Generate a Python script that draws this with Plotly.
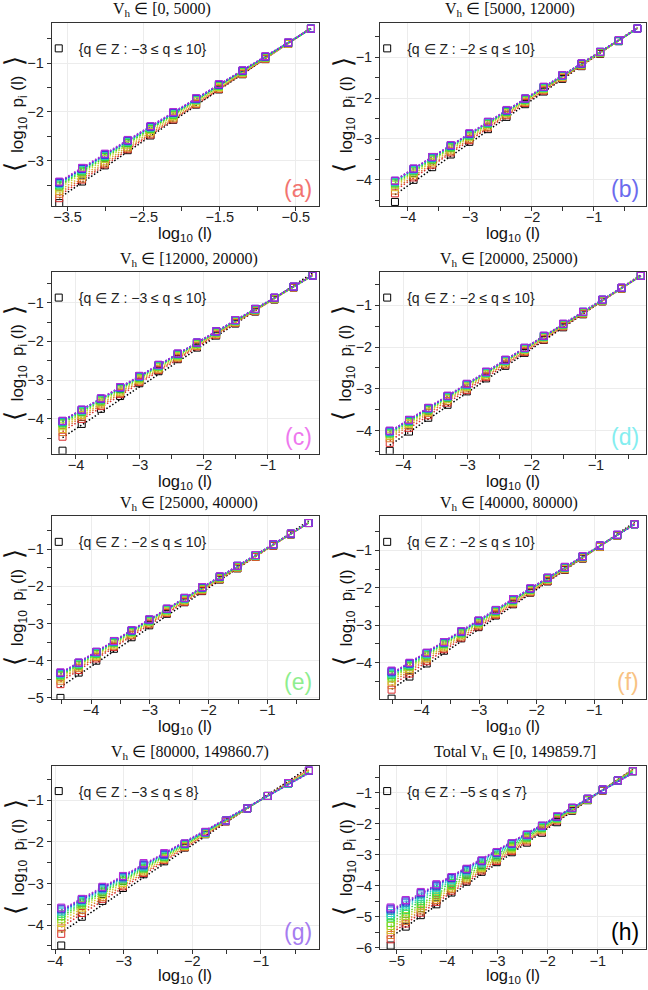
import colorsys
import numpy as np
import plotly.graph_objects as go

W, H = 648, 990

# ---------------- data ----------------
x_a = [-0.30, -0.60, -0.90, -1.20, -1.51, -1.81, -2.11, -2.41, -2.71, -3.01, -3.31, -3.61]
x_b = [-0.30, -0.60, -0.90, -1.20, -1.51, -1.81, -2.11, -2.41, -2.71, -3.01, -3.31, -3.61, -3.91, -4.21]
x_c = list(x_b)
x_d = list(x_b)
x_e = [-0.30, -0.60, -0.90, -1.20, -1.51, -1.81, -2.11, -2.41, -2.71, -3.01, -3.31, -3.61, -3.91, -4.21, -4.52]
x_f = list(x_e)
x_g = [-0.30, -0.60, -0.90, -1.20, -1.51, -1.81, -2.11, -2.41, -2.71, -3.01, -3.31, -3.61, -3.91]
x_h = [-0.30, -0.60, -0.90, -1.20, -1.51, -1.81, -2.11, -2.41, -2.71, -3.01, -3.31, -3.61, -3.91, -4.21,
       -4.52, -4.82, -5.12]

q_a = [-3, -2, -1, 0, 1, 2, 3, 4, 5, 6, 7, 8, 9, 10]
q_b = [-2, -1, 0, 1, 2, 3, 4, 5, 6, 7, 8, 9, 10]
q_c = [-3, -2, -1, 0, 1, 2, 3, 4, 5, 6, 7, 8, 9, 10]
q_d = [-2, -1, 0, 1, 2, 3, 4, 5, 6, 7, 8, 9, 10]
q_e = [-2, -1, 0, 1, 2, 3, 4, 5, 6, 7, 8, 9, 10]
q_f = [-2, -1, 0, 1, 2, 3, 4, 5, 6, 7, 8, 9, 10]
q_g = [-3, -2, -1, 0, 1, 2, 3, 4, 5, 6, 7, 8]
q_h = [-5, -4, -3, -2, -1, 0, 1, 2, 3, 4, 5, 6, 7]

y_a = [
    [-0.30, -0.61, -0.92, -1.23, -1.54, -1.85, -2.16, -2.48, -2.78, -3.09, -3.42, -3.86],
    [-0.30, -0.61, -0.92, -1.22, -1.53, -1.84, -2.15, -2.46, -2.76, -3.07, -3.38, -3.76],
    [-0.30, -0.61, -0.91, -1.22, -1.52, -1.83, -2.13, -2.44, -2.74, -3.05, -3.36, -3.67],
    [-0.30, -0.60, -0.90, -1.20, -1.50, -1.81, -2.11, -2.41, -2.71, -3.01, -3.31, -3.61],
    [-0.30, -0.60, -0.89, -1.19, -1.49, -1.78, -2.08, -2.37, -2.67, -2.96, -3.26, -3.56],
    [-0.30, -0.59, -0.89, -1.18, -1.47, -1.76, -2.06, -2.35, -2.64, -2.93, -3.23, -3.52],
    [-0.30, -0.59, -0.88, -1.17, -1.46, -1.75, -2.05, -2.34, -2.63, -2.92, -3.21, -3.50],
    [-0.30, -0.59, -0.88, -1.17, -1.46, -1.75, -2.03, -2.32, -2.61, -2.90, -3.19, -3.48],
    [-0.30, -0.59, -0.88, -1.16, -1.45, -1.74, -2.03, -2.32, -2.60, -2.89, -3.18, -3.47],
    [-0.30, -0.59, -0.87, -1.16, -1.45, -1.74, -2.02, -2.31, -2.60, -2.89, -3.17, -3.46],
    [-0.30, -0.59, -0.87, -1.16, -1.45, -1.73, -2.02, -2.30, -2.59, -2.88, -3.16, -3.45],
    [-0.30, -0.59, -0.87, -1.16, -1.44, -1.73, -2.01, -2.30, -2.58, -2.87, -3.16, -3.44],
    [-0.30, -0.58, -0.87, -1.15, -1.44, -1.72, -2.01, -2.29, -2.58, -2.86, -3.15, -3.43],
    [-0.30, -0.58, -0.86, -1.15, -1.43, -1.72, -2.00, -2.29, -2.57, -2.85, -3.14, -3.42],
]

y_b = [
    [-0.30, -0.61, -0.92, -1.22, -1.53, -1.84, -2.15, -2.46, -2.76, -3.07, -3.38, -3.69, -4.00, -4.54],
    [-0.30, -0.60, -0.91, -1.21, -1.51, -1.82, -2.12, -2.42, -2.72, -3.03, -3.33, -3.63, -3.94, -4.33],
    [-0.30, -0.60, -0.90, -1.20, -1.50, -1.80, -2.10, -2.40, -2.70, -3.00, -3.30, -3.60, -3.90, -4.26],
    [-0.30, -0.60, -0.89, -1.19, -1.48, -1.78, -2.08, -2.37, -2.67, -2.96, -3.26, -3.56, -3.85, -4.18],
    [-0.30, -0.59, -0.89, -1.18, -1.47, -1.77, -2.06, -2.35, -2.64, -2.94, -3.23, -3.52, -3.82, -4.12],
    [-0.30, -0.59, -0.88, -1.17, -1.46, -1.76, -2.05, -2.34, -2.63, -2.92, -3.21, -3.50, -3.79, -4.09],
    [-0.30, -0.59, -0.88, -1.17, -1.46, -1.75, -2.04, -2.33, -2.62, -2.91, -3.20, -3.48, -3.77, -4.07],
    [-0.30, -0.59, -0.88, -1.16, -1.45, -1.74, -2.03, -2.32, -2.60, -2.89, -3.18, -3.47, -3.76, -4.05],
    [-0.30, -0.59, -0.87, -1.16, -1.45, -1.74, -2.02, -2.31, -2.60, -2.89, -3.17, -3.46, -3.75, -4.04],
    [-0.30, -0.59, -0.87, -1.16, -1.45, -1.73, -2.02, -2.31, -2.59, -2.88, -3.17, -3.45, -3.74, -4.03],
    [-0.30, -0.59, -0.87, -1.16, -1.44, -1.73, -2.01, -2.30, -2.59, -2.87, -3.16, -3.45, -3.73, -4.03],
    [-0.30, -0.58, -0.87, -1.15, -1.44, -1.73, -2.01, -2.30, -2.58, -2.87, -3.15, -3.44, -3.73, -4.02],
    [-0.30, -0.58, -0.87, -1.15, -1.44, -1.72, -2.01, -2.29, -2.58, -2.86, -3.15, -3.44, -3.72, -4.02],
]

y_c = [
    [-0.30, -0.61, -0.92, -1.23, -1.54, -1.85, -2.16, -2.46, -2.77, -3.08, -3.41, -3.74, -4.13, -4.82],
    [-0.30, -0.61, -0.91, -1.22, -1.52, -1.83, -2.13, -2.44, -2.74, -3.05, -3.36, -3.67, -4.00, -4.46],
    [-0.30, -0.60, -0.91, -1.21, -1.51, -1.82, -2.12, -2.42, -2.72, -3.03, -3.33, -3.63, -3.94, -4.34],
    [-0.30, -0.60, -0.90, -1.20, -1.50, -1.80, -2.10, -2.40, -2.70, -3.00, -3.30, -3.60, -3.90, -4.26],
    [-0.30, -0.60, -0.89, -1.19, -1.49, -1.78, -2.08, -2.38, -2.67, -2.97, -3.27, -3.56, -3.86, -4.19],
    [-0.30, -0.59, -0.89, -1.18, -1.48, -1.77, -2.06, -2.36, -2.65, -2.95, -3.24, -3.53, -3.83, -4.14],
    [-0.30, -0.59, -0.88, -1.18, -1.47, -1.76, -2.05, -2.35, -2.64, -2.93, -3.22, -3.52, -3.81, -4.11],
    [-0.30, -0.59, -0.88, -1.17, -1.46, -1.76, -2.05, -2.34, -2.63, -2.92, -3.21, -3.50, -3.80, -4.09],
    [-0.30, -0.59, -0.88, -1.17, -1.46, -1.75, -2.04, -2.33, -2.62, -2.91, -3.20, -3.49, -3.79, -4.08],
    [-0.30, -0.59, -0.88, -1.17, -1.46, -1.75, -2.04, -2.33, -2.62, -2.91, -3.20, -3.49, -3.78, -4.07],
    [-0.30, -0.59, -0.88, -1.17, -1.45, -1.74, -2.03, -2.32, -2.61, -2.90, -3.19, -3.48, -3.77, -4.06],
    [-0.30, -0.59, -0.87, -1.16, -1.45, -1.74, -2.03, -2.32, -2.61, -2.90, -3.19, -3.48, -3.77, -4.06],
    [-0.30, -0.59, -0.87, -1.16, -1.45, -1.74, -2.03, -2.32, -2.61, -2.89, -3.18, -3.47, -3.76, -4.05],
    [-0.30, -0.58, -0.87, -1.16, -1.45, -1.74, -2.03, -2.31, -2.60, -2.89, -3.18, -3.47, -3.76, -4.05],
]

y_d = [
    [-0.30, -0.61, -0.91, -1.22, -1.53, -1.83, -2.14, -2.45, -2.75, -3.06, -3.38, -3.69, -4.02, -4.48],
    [-0.30, -0.60, -0.91, -1.21, -1.51, -1.82, -2.12, -2.42, -2.72, -3.03, -3.33, -3.63, -3.93, -4.29],
    [-0.30, -0.60, -0.90, -1.20, -1.50, -1.80, -2.10, -2.40, -2.69, -2.99, -3.29, -3.58, -3.88, -4.18],
    [-0.30, -0.60, -0.89, -1.19, -1.48, -1.78, -2.07, -2.37, -2.66, -2.96, -3.25, -3.55, -3.84, -4.13],
    [-0.30, -0.59, -0.89, -1.18, -1.47, -1.77, -2.06, -2.35, -2.64, -2.94, -3.23, -3.52, -3.81, -4.09],
    [-0.30, -0.59, -0.88, -1.17, -1.47, -1.76, -2.05, -2.34, -2.63, -2.92, -3.21, -3.50, -3.79, -4.07],
    [-0.30, -0.59, -0.88, -1.17, -1.46, -1.75, -2.04, -2.33, -2.62, -2.91, -3.20, -3.49, -3.78, -4.05],
    [-0.30, -0.59, -0.88, -1.17, -1.46, -1.75, -2.04, -2.33, -2.61, -2.90, -3.19, -3.48, -3.77, -4.04],
    [-0.30, -0.59, -0.88, -1.16, -1.45, -1.74, -2.03, -2.32, -2.61, -2.90, -3.18, -3.47, -3.76, -4.03],
    [-0.30, -0.59, -0.87, -1.16, -1.45, -1.74, -2.03, -2.32, -2.60, -2.89, -3.18, -3.47, -3.76, -4.02],
    [-0.30, -0.59, -0.87, -1.16, -1.45, -1.74, -2.02, -2.31, -2.60, -2.89, -3.17, -3.46, -3.75, -4.01],
    [-0.30, -0.58, -0.87, -1.16, -1.45, -1.73, -2.02, -2.31, -2.59, -2.88, -3.17, -3.46, -3.74, -4.00],
    [-0.30, -0.58, -0.87, -1.16, -1.44, -1.73, -2.02, -2.30, -2.59, -2.88, -3.16, -3.45, -3.74, -4.00],
]

y_e = [
    [-0.30, -0.61, -0.91, -1.21, -1.52, -1.82, -2.13, -2.43, -2.74, -3.05, -3.37, -3.68, -4.00, -4.32, -5.00],
    [-0.30, -0.60, -0.91, -1.21, -1.51, -1.81, -2.12, -2.42, -2.72, -3.02, -3.32, -3.63, -3.94, -4.25, -4.63],
    [-0.30, -0.60, -0.90, -1.20, -1.50, -1.80, -2.10, -2.40, -2.70, -3.00, -3.30, -3.60, -3.90, -4.20, -4.54],
    [-0.30, -0.60, -0.89, -1.19, -1.49, -1.79, -2.08, -2.38, -2.68, -2.97, -3.27, -3.57, -3.87, -4.16, -4.48],
    [-0.30, -0.59, -0.89, -1.18, -1.48, -1.77, -2.07, -2.36, -2.66, -2.95, -3.25, -3.54, -3.84, -4.13, -4.42],
    [-0.30, -0.59, -0.88, -1.18, -1.47, -1.76, -2.06, -2.35, -2.64, -2.94, -3.23, -3.52, -3.82, -4.11, -4.40],
    [-0.30, -0.59, -0.88, -1.17, -1.46, -1.76, -2.05, -2.34, -2.63, -2.92, -3.22, -3.51, -3.80, -4.10, -4.38],
    [-0.30, -0.59, -0.88, -1.17, -1.46, -1.75, -2.04, -2.33, -2.62, -2.92, -3.21, -3.50, -3.79, -4.08, -4.36],
    [-0.30, -0.59, -0.88, -1.17, -1.46, -1.75, -2.04, -2.33, -2.62, -2.91, -3.20, -3.49, -3.78, -4.07, -4.35],
    [-0.30, -0.59, -0.88, -1.16, -1.45, -1.74, -2.03, -2.32, -2.61, -2.90, -3.19, -3.48, -3.77, -4.06, -4.34],
    [-0.30, -0.59, -0.87, -1.16, -1.45, -1.74, -2.03, -2.32, -2.61, -2.90, -3.19, -3.48, -3.77, -4.06, -4.33],
    [-0.30, -0.58, -0.87, -1.16, -1.45, -1.74, -2.03, -2.31, -2.60, -2.89, -3.18, -3.47, -3.76, -4.05, -4.33],
    [-0.30, -0.58, -0.87, -1.16, -1.45, -1.73, -2.02, -2.31, -2.60, -2.89, -3.18, -3.47, -3.76, -4.05, -4.31],
]

y_f = [
    [-0.30, -0.61, -0.91, -1.22, -1.52, -1.83, -2.13, -2.44, -2.74, -3.05, -3.35, -3.68, -4.02, -4.37, -4.96],
    [-0.30, -0.60, -0.91, -1.21, -1.51, -1.82, -2.12, -2.42, -2.72, -3.03, -3.33, -3.64, -3.96, -4.29, -4.72],
    [-0.30, -0.60, -0.90, -1.20, -1.50, -1.80, -2.10, -2.40, -2.70, -3.00, -3.30, -3.60, -3.91, -4.22, -4.60],
    [-0.30, -0.60, -0.89, -1.19, -1.49, -1.78, -2.08, -2.38, -2.67, -2.97, -3.27, -3.57, -3.87, -4.17, -4.50],
    [-0.30, -0.59, -0.89, -1.18, -1.47, -1.77, -2.06, -2.36, -2.65, -2.95, -3.24, -3.54, -3.83, -4.12, -4.42],
    [-0.30, -0.59, -0.88, -1.17, -1.47, -1.76, -2.05, -2.34, -2.64, -2.93, -3.22, -3.51, -3.80, -4.09, -4.37],
    [-0.30, -0.59, -0.88, -1.17, -1.46, -1.75, -2.04, -2.33, -2.62, -2.91, -3.20, -3.49, -3.78, -4.07, -4.33],
    [-0.30, -0.59, -0.88, -1.17, -1.46, -1.75, -2.04, -2.33, -2.61, -2.90, -3.19, -3.48, -3.77, -4.05, -4.30],
    [-0.30, -0.59, -0.88, -1.16, -1.45, -1.74, -2.03, -2.32, -2.61, -2.90, -3.18, -3.47, -3.76, -4.04, -4.28],
    [-0.30, -0.59, -0.87, -1.16, -1.45, -1.74, -2.03, -2.31, -2.60, -2.89, -3.18, -3.46, -3.75, -4.03, -4.26],
    [-0.30, -0.59, -0.87, -1.16, -1.45, -1.73, -2.02, -2.31, -2.60, -2.88, -3.17, -3.46, -3.74, -4.02, -4.24],
    [-0.30, -0.58, -0.87, -1.16, -1.44, -1.73, -2.02, -2.30, -2.59, -2.88, -3.16, -3.45, -3.74, -4.01, -4.22],
    [-0.30, -0.58, -0.87, -1.15, -1.44, -1.73, -2.01, -2.30, -2.59, -2.87, -3.16, -3.45, -3.73, -4.00, -4.21],
]

y_g = [
    [-0.30, -0.60, -0.90, -1.20, -1.51, -1.82, -2.14, -2.47, -2.78, -3.11, -3.42, -3.80, -4.49],
    [-0.30, -0.60, -0.90, -1.20, -1.51, -1.81, -2.13, -2.44, -2.75, -3.07, -3.37, -3.71, -4.21],
    [-0.30, -0.60, -0.90, -1.20, -1.50, -1.81, -2.12, -2.42, -2.72, -3.03, -3.33, -3.64, -4.08],
    [-0.30, -0.60, -0.90, -1.20, -1.50, -1.80, -2.10, -2.40, -2.69, -2.99, -3.28, -3.58, -3.95],
    [-0.30, -0.60, -0.90, -1.20, -1.50, -1.80, -2.09, -2.38, -2.66, -2.95, -3.24, -3.52, -3.86],
    [-0.30, -0.60, -0.90, -1.20, -1.49, -1.79, -2.08, -2.36, -2.64, -2.93, -3.20, -3.48, -3.79],
    [-0.30, -0.60, -0.90, -1.20, -1.49, -1.79, -2.07, -2.35, -2.62, -2.90, -3.17, -3.45, -3.73],
    [-0.30, -0.60, -0.90, -1.20, -1.49, -1.78, -2.06, -2.33, -2.60, -2.88, -3.15, -3.42, -3.68],
    [-0.30, -0.60, -0.90, -1.20, -1.49, -1.78, -2.05, -2.32, -2.58, -2.86, -3.13, -3.40, -3.65],
    [-0.29, -0.59, -0.90, -1.20, -1.49, -1.77, -2.05, -2.31, -2.56, -2.85, -3.11, -3.39, -3.62],
    [-0.29, -0.59, -0.90, -1.20, -1.49, -1.77, -2.04, -2.29, -2.54, -2.83, -3.09, -3.38, -3.60],
    [-0.29, -0.59, -0.90, -1.20, -1.49, -1.76, -2.04, -2.27, -2.51, -2.82, -3.08, -3.37, -3.58],
]

y_h = [
    [-0.30, -0.61, -0.93, -1.24, -1.58, -1.95, -2.29, -2.61, -2.92, -3.24, -3.55, -3.87, -4.22, -4.60, -4.95, -5.32, -5.93],
    [-0.30, -0.61, -0.92, -1.23, -1.56, -1.90, -2.25, -2.57, -2.88, -3.20, -3.51, -3.83, -4.16, -4.52, -4.87, -5.22, -5.73],
    [-0.30, -0.61, -0.92, -1.23, -1.55, -1.87, -2.21, -2.53, -2.85, -3.16, -3.47, -3.79, -4.11, -4.46, -4.80, -5.14, -5.59],
    [-0.30, -0.60, -0.91, -1.22, -1.54, -1.85, -2.18, -2.50, -2.81, -3.12, -3.43, -3.74, -4.06, -4.40, -4.73, -5.06, -5.43],
    [-0.30, -0.60, -0.91, -1.22, -1.53, -1.84, -2.16, -2.47, -2.78, -3.09, -3.40, -3.70, -4.01, -4.34, -4.66, -4.98, -5.30],
    [-0.30, -0.60, -0.91, -1.21, -1.52, -1.83, -2.14, -2.45, -2.75, -3.06, -3.36, -3.66, -3.97, -4.28, -4.59, -4.90, -5.20],
    [-0.30, -0.60, -0.90, -1.21, -1.51, -1.81, -2.12, -2.42, -2.72, -3.02, -3.32, -3.61, -3.91, -4.21, -4.50, -4.79, -5.03],
    [-0.30, -0.60, -0.90, -1.20, -1.50, -1.80, -2.10, -2.40, -2.69, -2.99, -3.28, -3.57, -3.86, -4.14, -4.42, -4.68, -4.95],
    [-0.30, -0.60, -0.90, -1.20, -1.50, -1.79, -2.09, -2.38, -2.67, -2.96, -3.25, -3.53, -3.81, -4.08, -4.35, -4.61, -4.88],
    [-0.30, -0.60, -0.90, -1.20, -1.49, -1.78, -2.08, -2.37, -2.65, -2.94, -3.22, -3.50, -3.77, -4.03, -4.28, -4.55, -4.80],
    [-0.30, -0.60, -0.89, -1.19, -1.49, -1.77, -2.07, -2.36, -2.64, -2.93, -3.20, -3.48, -3.75, -4.00, -4.24, -4.51, -4.76],
    [-0.30, -0.60, -0.89, -1.19, -1.48, -1.77, -2.06, -2.35, -2.63, -2.92, -3.19, -3.46, -3.73, -3.97, -4.22, -4.48, -4.73],
    [-0.30, -0.60, -0.89, -1.19, -1.48, -1.76, -2.06, -2.35, -2.63, -2.91, -3.18, -3.45, -3.72, -3.95, -4.20, -4.46, -4.70],
]

titles = ["V<sub>h</sub> ∈ [0, 5000)", "V<sub>h</sub> ∈ [5000, 12000)",
          "V<sub>h</sub> ∈ [12000, 20000)", "V<sub>h</sub> ∈ [20000, 25000)",
          "V<sub>h</sub> ∈ [25000, 40000)", "V<sub>h</sub> ∈ [40000, 80000)",
          "V<sub>h</sub> ∈ [80000, 149860.7)", "Total V<sub>h</sub> ∈ [0, 149859.7]"]
letters = ["(a)", "(b)", "(c)", "(d)", "(e)", "(f)", "(g)", "(h)"]

# ---------------- styling / layout ----------------
letter_colors = ["#F27470", "#6B6BEE", "#EE78EE", "#84EEF0", "#8EEE8E", "#F8C283", "#A67CF0", "#000000"]
x_ranges = [(-3.71, -0.20), (-4.45, -0.16), (-4.38, -0.21), (-4.36, -0.22),
            (-4.67, -0.13), (-4.72, -0.10), (-4.05, -0.16), (-5.33, -0.04)]
y_ranges = [(-3.92, -0.18), (-4.64, -0.16), (-4.90, -0.21), (-4.55, -0.21),
            (-5.03, -0.12), (-4.97, -0.09), (-4.58, -0.17), (-6.05, -0.12)]
col_px = [(47, 316), (378, 646)]
row_px = [(23, 207.5), (274, 457), (520, 704), (771, 956)]
title_cx = [158, 509, 185, 508, 185, 508, 186, 514]
xtitle_off = [28, 28, 28, 27]

panels = [(x_a, q_a, y_a), (x_b, q_b, y_b), (x_c, q_c, y_c), (x_d, q_d, y_d),
          (x_e, q_e, y_e), (x_f, q_f, y_f), (x_g, q_g, y_g), (x_h, q_h, y_h)]


def px_x(p):
    return p / W


def px_y(p):
    return 1 - p / H


def palette(n):
    cols = ["#000000"]
    for i in range(1, n):
        h = (i - 1) / max(n - 2, 1) * 0.8
        r, g, b = colorsys.hsv_to_rgb(h, 0.8, 0.85)
        cols.append("rgb(%d,%d,%d)" % (r * 255, g * 255, b * 255))
    return cols


SANS = "Liberation Sans, Arial, sans-serif"
SERIF = "Liberation Serif, Times New Roman, serif"

fig = go.Figure()
layout = dict(width=W, height=H, margin=dict(l=0, r=0, t=0, b=0),
              paper_bgcolor="white", plot_bgcolor="white", showlegend=True,
              annotations=[])

for idx, (xs, qs, ys) in enumerate(panels):
    n = idx + 1
    sfx = "" if n == 1 else str(n)
    col = idx % 2
    row = idx // 2
    x0, x1 = col_px[col]
    yt, yb = row_px[row]
    xa, ya = "x" + sfx, "y" + sfx
    leg = "legend" + sfx
    cols = palette(len(qs))
    xarr = np.array(xs)
    # fitted dotted lines
    for j, q in enumerate(qs):
        yarr = np.array(ys[j])
        m, c = np.polyfit(xarr, yarr, 1)
        xl = np.array([xarr.min(), xarr.max()])
        fig.add_trace(go.Scatter(x=xl, y=m * xl + c, mode="lines", xaxis=xa, yaxis=ya,
                                 line=dict(color=cols[j], width=1.5, dash="1.5px,2px"),
                                 showlegend=False, hoverinfo="skip"))
    # data markers
    for j in range(len(qs)):
        fig.add_trace(go.Scatter(x=xs, y=ys[j], mode="markers", xaxis=xa, yaxis=ya,
                                 marker=dict(symbol="square-open", size=7, color=cols[j],
                                             line=dict(width=1, color=cols[j])),
                                 name="{q ∈ Z : −%d ≤ q ≤ %d}" % (-qs[0], qs[-1]) if j == 0 else "q=%d" % qs[j],
                                 showlegend=(j == 0), legend=leg))

    tick0 = -3.5 if idx == 0 else 0
    axis_common = dict(showline=True, linecolor="#333333", linewidth=1, mirror=True,
                       ticks="outside", ticklen=4, tickcolor="#333333",
                       showgrid=True, gridcolor="#ececec", gridwidth=1, zeroline=False,
                       tickfont=dict(family=SANS, size=14.5, color="#222222"))
    layout["xaxis" + sfx] = dict(axis_common, domain=[px_x(x0), px_x(x1)], anchor=ya,
                                 range=list(x_ranges[idx]), tick0=tick0, dtick=1,
                                 ticklabelstandoff=-6,
                                 minor=dict(dtick=0.5, tick0=tick0, ticks="outside", ticklen=4,
                                            tickcolor="#333333", showgrid=False))
    layout["yaxis" + sfx] = dict(axis_common, domain=[px_y(yb), px_y(yt)], anchor=xa,
                                 range=list(y_ranges[idx]), tick0=0, dtick=1,
                                 minor=dict(dtick=0.5, tick0=0, ticks="outside", ticklen=4,
                                            tickcolor="#333333", showgrid=False))
    layout[leg] = dict(x=px_x(x0 - 13), y=px_y(yt + 10), xanchor="left", yanchor="top",
                       bgcolor="rgba(0,0,0,0)", borderwidth=0,
                       font=dict(family=SANS, size=14, color="#222222"))

    ann = layout["annotations"]
    ann.append(dict(text=titles[idx], x=px_x(title_cx[idx]), y=px_y(yt - 13), xref="paper", yref="paper",
                    xanchor="center", yanchor="middle", showarrow=False,
                    font=dict(family=SERIF, size=16, color="#111111")))
    ann.append(dict(text="log<sub>10</sub> (l)", x=px_x((x0 + x1) / 2), y=px_y(yb + xtitle_off[row]),
                    xref="paper", yref="paper", xanchor="center", yanchor="middle", showarrow=False,
                    font=dict(family=SANS, size=16.5, color="#111111")))
    ann.append(dict(text="<span style='font-size:26px'>⟨</span>  log<sub>10</sub>  p<sub>i</sub> (l)  "
                         "<span style='font-size:26px'>⟩</span>",
                    x=px_x(x0 - 37), y=px_y((yt + yb) / 2), xref="paper", yref="paper",
                    xanchor="center", yanchor="middle", textangle=-90, showarrow=False,
                    font=dict(family=SANS, size=17, color="#111111")))
    ann.append(dict(text=letters[idx], x=px_x(x1 - 5), y=px_y(yb - 2), xref="paper", yref="paper",
                    xanchor="right", yanchor="bottom", showarrow=False,
                    font=dict(family=SANS, size=23, color=letter_colors[idx])))

fig.update_layout(**layout)
fig.write_html("out.html")
